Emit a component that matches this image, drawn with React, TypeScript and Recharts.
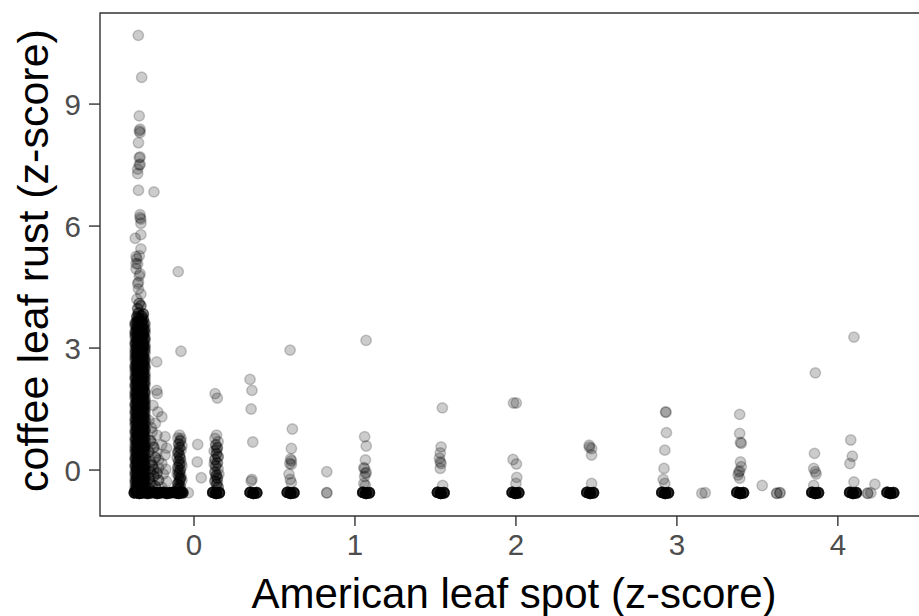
import React from "react";
import {
  ScatterChart,
  Scatter,
  XAxis,
  YAxis,
  ReferenceArea,
} from "recharts";

// [x, y] or [x, y, count] when several observations sit on the same spot
type Obs = number[];

const xTicks = [0, 1, 2, 3, 4];
const yTicks = [0, 3, 6, 9];
const xDomain = [-0.584, 4.56];
const yDomain = [-1.13, 11.24];

// the big column of plots with almost no American leaf spot
const mainColumnX = [-0.365, -0.355, -0.345, -0.325, -0.315, -0.305];
// how many observations overlap at each listed value, per sub-column
const mainColumnRepeats = [2, 3, 3, 3, 3, 2];
const mainColumnY = [
  [-0.5, -0.43, -0.31, -0.24, -0.12, -0.05, 0.08, 0.13, 0.26, 0.31, 0.44, 0.52, 0.61, 0.73, 0.79, 0.92, 0.98, 1.11, 1.2, 1.27, 1.39, 1.46, 1.58, 1.63, 1.77, 1.85, 1.92, 2.05, 2.11, 2.24, 2.3, 2.43, 2.52, 2.58, 2.71, 2.79, 2.88, 2.97, 3.09, 3.14, 3.27, 3.35, 3.41, 3.56, 3.62],
  [-0.45, -0.37, -0.27, -0.2, -0.11, -0.01, 0.06, 0.16, 0.24, 0.32, 0.42, 0.49, 0.59, 0.68, 0.77, 0.86, 0.96, 1.04, 1.14, 1.21, 1.32, 1.4, 1.49, 1.57, 1.67, 1.74, 1.84, 1.93, 2.03, 2.12, 2.2, 2.29, 2.4, 2.48, 2.57, 2.65, 2.77, 2.84, 2.94, 3.02, 3.13, 3.21, 3.33, 3.43, 3.52, 3.64, 3.77],
  [-0.47, -0.38, -0.29, -0.17, -0.09, 0.02, 0.1, 0.19, 0.28, 0.37, 0.48, 0.55, 0.66, 0.71, 0.84, 0.9, 1.03, 1.08, 1.17, 1.31, 1.35, 1.48, 1.55, 1.66, 1.72, 1.83, 1.96, 2.01, 2.14, 2.19, 2.33, 2.38, 2.47, 2.62, 2.67, 2.76, 2.86, 2.95, 3.04, 3.12, 3.22, 3.31, 3.45, 3.5, 3.66, 3.74, 3.86],
  [-0.49, -0.4, -0.33, -0.21, -0.14, -0.03, 0.04, 0.17, 0.22, 0.35, 0.4, 0.5, 0.63, 0.69, 0.81, 0.87, 0.99, 1.06, 1.15, 1.24, 1.34, 1.42, 1.51, 1.6, 1.69, 1.79, 1.87, 1.98, 2.07, 2.16, 2.26, 2.35, 2.45, 2.54, 2.63, 2.73, 2.82, 2.91, 3.0, 3.11, 3.19, 3.29, 3.38, 3.48, 3.57, 3.68, 3.79],
  [-0.48, -0.39, -0.3, -0.22, -0.13, -0.04, 0.05, 0.14, 0.23, 0.3, 0.41, 0.51, 0.58, 0.67, 0.78, 0.88, 0.94, 1.05, 1.12, 1.23, 1.33, 1.43, 1.52, 1.61, 1.7, 1.78, 1.86, 1.99, 2.04, 2.13, 2.25, 2.34, 2.42, 2.53, 2.6, 2.7, 2.8, 2.89, 3.03, 3.08, 3.17, 3.3, 3.37, 3.46, 3.58, 3.71, 3.84],
  [-0.51, -0.42, -0.35, -0.26, -0.16, -0.07, 0.01, 0.11, 0.2, 0.29, 0.39, 0.46, 0.57, 0.64, 0.75, 0.82, 0.95, 1.01, 1.13, 1.22, 1.3, 1.41, 1.5, 1.59, 1.68, 1.76, 1.89, 1.94, 2.09, 2.17, 2.28, 2.36, 2.5, 2.56, 2.68, 2.74, 2.9, 2.99, 3.06, 3.2, 3.25, 3.39, 3.47, 3.6],
];

const upperTail: Obs[] = [
  [-0.35, 3.97, 2], [-0.33, 4.04, 2], [-0.34, 4.1, 2], [-0.355, 4.2], [-0.33, 4.33], [-0.345, 4.45],
  [-0.35, 4.58], [-0.345, 4.62], [-0.34, 4.78], [-0.335, 4.83], [-0.36, 4.95], [-0.35, 5.07],
  [-0.36, 5.08], [-0.355, 5.19], [-0.36, 5.25], [-0.34, 5.27], [-0.33, 5.44], [-0.365, 5.7],
  [-0.33, 5.79], [-0.33, 6.07], [-0.33, 6.17], [-0.335, 6.21], [-0.335, 6.28], [-0.345, 6.88],
  [-0.249, 6.84], [-0.35, 7.29], [-0.35, 7.4], [-0.34, 7.5], [-0.335, 7.52], [-0.34, 7.68],
  [-0.335, 7.7], [-0.345, 8.05], [-0.335, 8.3], [-0.34, 8.34], [-0.335, 8.38], [-0.34, 8.71],
  [-0.325, 9.66], [-0.346, 10.69],
];

const nearZero: Obs[] = [
  [-0.232, 2.66], [-0.232, 1.96], [-0.228, 1.88], [-0.255, 1.59], [-0.225, 1.43], [-0.2, 1.31],
  [-0.28, 1.22], [-0.24, 1.15], [-0.265, 1.04], [-0.26, 0.94], [-0.23, 0.86], [-0.18, 0.82],
  [-0.27, 0.72, 2], [-0.26, 0.65], [-0.2, 0.62], [-0.25, 0.56, 2], [-0.17, 0.54], [-0.28, 0.45, 2],
  [-0.23, 0.42], [-0.18, 0.37], [-0.24, 0.31, 2], [-0.22, 0.25], [-0.27, 0.2, 2], [-0.2, 0.16],
  [-0.26, 0.12, 2], [-0.22, 0.05], [-0.25, 0.02, 2], [-0.175, 0.02], [-0.27, -0.05, 2], [-0.23, -0.08, 2],
  [-0.19, -0.1], [-0.25, -0.15, 2], [-0.28, -0.2, 2], [-0.22, -0.25, 2], [-0.17, -0.28], [-0.27, -0.32, 2],
  [-0.26, -0.35], [-0.24, -0.4, 2], [-0.2, -0.42], [-0.28, -0.45, 2],
  [-0.098, 4.88], [-0.081, 2.92],
  [-0.09, 0.86], [-0.1, 0.79], [-0.08, 0.78], [-0.085, 0.72, 2], [-0.095, 0.64, 2], [-0.075, 0.6],
  [-0.09, 0.55, 2], [-0.08, 0.5], [-0.1, 0.43, 2], [-0.09, 0.36, 2], [-0.105, 0.3], [-0.085, 0.28, 2],
  [-0.095, 0.22, 2], [-0.09, 0.14, 2], [-0.075, 0.1], [-0.1, 0.07, 2], [-0.085, 0.01, 2], [-0.09, -0.06, 2],
  [-0.105, -0.1], [-0.095, -0.13, 2], [-0.085, -0.2, 3], [-0.075, -0.25], [-0.09, -0.27, 2],
  [-0.1, -0.33, 3], [-0.085, -0.4, 2], [-0.105, -0.45], [-0.09, -0.46, 3],
  [-0.095, 0.47], [-0.08, 0.18], [-0.1, -0.02], [-0.08, -0.15], [-0.095, -0.38],
  [0.023, 0.63], [0.02, 0.2], [0.045, -0.19],
  [0.131, 1.88], [0.145, 1.77], [0.14, 0.86], [0.13, 0.78], [0.15, 0.7], [0.135, 0.62, 2],
  [0.145, 0.55, 2], [0.125, 0.47], [0.14, 0.4, 2], [0.15, 0.33, 2], [0.13, 0.26, 2], [0.145, 0.18, 2],
  [0.125, 0.15], [0.135, 0.1, 2], [0.15, 0.03], [0.13, -0.05, 2], [0.155, -0.1], [0.14, -0.12, 2],
  [0.145, -0.2, 2], [0.13, -0.27, 2], [0.14, -0.35, 2], [0.15, -0.42, 2],
  [0.14, 0.5], [0.135, -0.16], [0.145, -0.3],
];

const rightColumns: Obs[] = [
  [0.348, 2.23], [0.36, 1.96], [0.355, 1.5], [0.365, 0.69], [0.36, -0.23], [0.355, -0.27],
  [0.597, 2.95], [0.611, 1.01], [0.605, 0.53], [0.6, 0.27], [0.605, 0.23], [0.595, 0.16],
  [0.605, 0.14], [0.59, -0.1], [0.598, -0.23], [0.605, -0.31],
  [0.825, -0.04],
  [1.069, 3.19], [1.06, 0.82], [1.07, 0.59], [1.065, 0.25], [1.055, 0.06], [1.06, 0.04],
  [1.07, -0.06], [1.065, -0.08], [1.06, -0.16], [1.055, -0.33], [1.065, -0.37],
  [1.543, 1.53], [1.535, 0.57], [1.53, 0.42], [1.525, 0.29], [1.53, 0.2], [1.535, 0.16],
  [1.53, 0.04], [1.545, -0.38],
  [1.985, 1.65], [2.002, 1.65], [1.982, 0.26], [2.003, 0.15], [2.005, -0.18], [2.0, -0.33],
  [2.455, 0.61], [2.457, 0.56], [2.47, 0.53], [2.47, 0.37], [2.47, -0.33],
  [2.93, 1.43], [2.932, 1.42], [2.935, 0.92], [2.925, 0.49], [2.92, 0.04], [2.915, -0.23],
  [2.925, -0.33],
  [3.39, 1.37], [3.39, 0.9], [3.395, 0.68], [3.4, 0.66], [3.395, 0.2], [3.4, 0.08],
  [3.39, -0.02], [3.385, -0.05], [3.38, -0.12], [3.39, -0.2],
  [3.53, -0.38],
  [3.86, 2.39], [3.855, 0.41], [3.85, 0.04], [3.86, -0.04], [3.865, -0.1], [3.85, -0.38],
  [4.1, 3.27], [4.08, 0.74], [4.09, 0.34], [4.075, 0.16], [4.1, -0.29],
  [4.23, -0.35],
];

// bottom row (no leaf rust); third value = overlapping observations
const floorStacks: Obs[] = [
  [-0.37, -0.56, 8], [-0.355, -0.55, 9], [-0.34, -0.57, 9], [-0.325, -0.56, 9], [-0.31, -0.55, 9],
  [-0.29, -0.57, 8], [-0.27, -0.56, 8], [-0.25, -0.55, 8], [-0.23, -0.57, 8], [-0.21, -0.56, 8],
  [-0.19, -0.55, 8], [-0.17, -0.57, 8], [-0.15, -0.56, 8], [-0.13, -0.55, 8], [-0.11, -0.56, 8],
  [-0.095, -0.57, 8], [-0.08, -0.55, 8], [-0.07, -0.56, 6], [-0.035, -0.56, 1],
  [0.117, -0.55, 8], [0.137, -0.57, 10], [0.157, -0.56, 8],
  [0.349, -0.55, 8], [0.369, -0.57, 10], [0.389, -0.56, 8],
  [0.58, -0.55, 8], [0.6, -0.57, 10], [0.62, -0.56, 8],
  [0.825, -0.56, 2],
  [1.049, -0.55, 8], [1.069, -0.57, 10], [1.089, -0.56, 8],
  [1.513, -0.55, 8], [1.533, -0.57, 10], [1.553, -0.56, 8],
  [1.977, -0.55, 8], [1.997, -0.57, 10], [2.017, -0.56, 8],
  [2.441, -0.55, 8], [2.461, -0.57, 10], [2.481, -0.56, 8],
  [2.907, -0.55, 8], [2.927, -0.57, 10], [2.947, -0.56, 8],
  [3.155, -0.57, 1], [3.176, -0.56, 1],
  [3.373, -0.55, 8], [3.393, -0.57, 10], [3.413, -0.56, 8],
  [3.62, -0.57, 2], [3.64, -0.56, 2],
  [3.839, -0.55, 8], [3.859, -0.57, 10], [3.879, -0.56, 8],
  [4.074, -0.55, 8], [4.094, -0.57, 10], [4.114, -0.56, 8],
  [4.185, -0.57, 2], [4.205, -0.56, 1],
  [4.306, -0.55, 8], [4.326, -0.57, 10], [4.346, -0.56, 8],
];

const expand = (list: Obs[]) =>
  list.flatMap((o) => Array.from({ length: o[2] ?? 1 }, () => ({ x: o[0], y: o[1] })));

const points = [
  ...mainColumnX.flatMap((x, i) =>
    expand(mainColumnY[i].map((y) => [x, y, mainColumnRepeats[i]]))
  ),
  ...expand(upperTail),
  ...expand(nearZero),
  ...expand(rightColumns),
  ...expand(floorStacks),
];

const font = '"Liberation Sans", Arial, Helvetica, sans-serif';

const Dot = (props: any) => (
  <circle
    cx={props.cx}
    cy={props.cy}
    r={5.2}
    fill="#000"
    fillOpacity={0.2}
    stroke="#000"
    strokeOpacity={0.2}
    strokeWidth={1.5}
  />
);

const XTitle = (props: any) => {
  const vb = props.viewBox ?? { x: 100, y: 516, width: 828, height: 100 };
  return (
    <text
      x={vb.x + vb.width / 2}
      y={vb.y + 92}
      textAnchor="middle"
      fontSize={42}
      fontFamily={font}
      fill="#000"
    >
      American leaf spot (z-score)
    </text>
  );
};

const YTitle = (props: any) => {
  const vb = props.viewBox ?? { x: 0, y: 13, width: 100, height: 503 };
  const cx = vb.x + 48;
  const cy = vb.y + vb.height / 2 - 4;
  return (
    <text
      x={cx}
      y={cy}
      transform={`rotate(-90, ${cx}, ${cy})`}
      textAnchor="middle"
      fontSize={43}
      fontFamily={font}
      fill="#000"
    >
      coffee leaf rust (z-score)
    </text>
  );
};

export default function App() {
  return (
    <div
      style={{
        position: "absolute",
        left: 0,
        top: 0,
        width: 919,
        height: 616,
        overflow: "hidden",
        background: "#fff",
      }}
    >
      <ScatterChart
        width={930}
        height={616}
        margin={{ top: 13, right: 2, bottom: 0, left: 0 }}
      >
        <XAxis
          type="number"
          dataKey="x"
          domain={xDomain}
          ticks={xTicks}
          allowDataOverflow
          interval={0}
          height={100}
          axisLine={false}
          tickLine={{ stroke: "#333333", strokeWidth: 1.4 }}
          tickSize={10}
          tickMargin={8}
          tick={{ fill: "#4D4D4D", fontSize: 29.5, fontFamily: font }}
          label={XTitle}
        />
        <YAxis
          type="number"
          dataKey="y"
          domain={yDomain}
          ticks={yTicks}
          allowDataOverflow
          interval={0}
          width={100}
          axisLine={false}
          tickLine={{ stroke: "#333333", strokeWidth: 1.4 }}
          tickSize={11}
          tickMargin={8}
          tick={{ fill: "#4D4D4D", fontSize: 29.5, fontFamily: font }}
          label={YTitle}
        />
        <Scatter
          data={points}
          shape={Dot}
          isAnimationActive={false}
        />
        <ReferenceArea
          x1={xDomain[0]}
          x2={xDomain[1]}
          y1={yDomain[0]}
          y2={yDomain[1]}
          fill="none"
          stroke="#333333"
          strokeWidth={1.4}
          ifOverflow="visible"
        />
      </ScatterChart>
    </div>
  );
}
